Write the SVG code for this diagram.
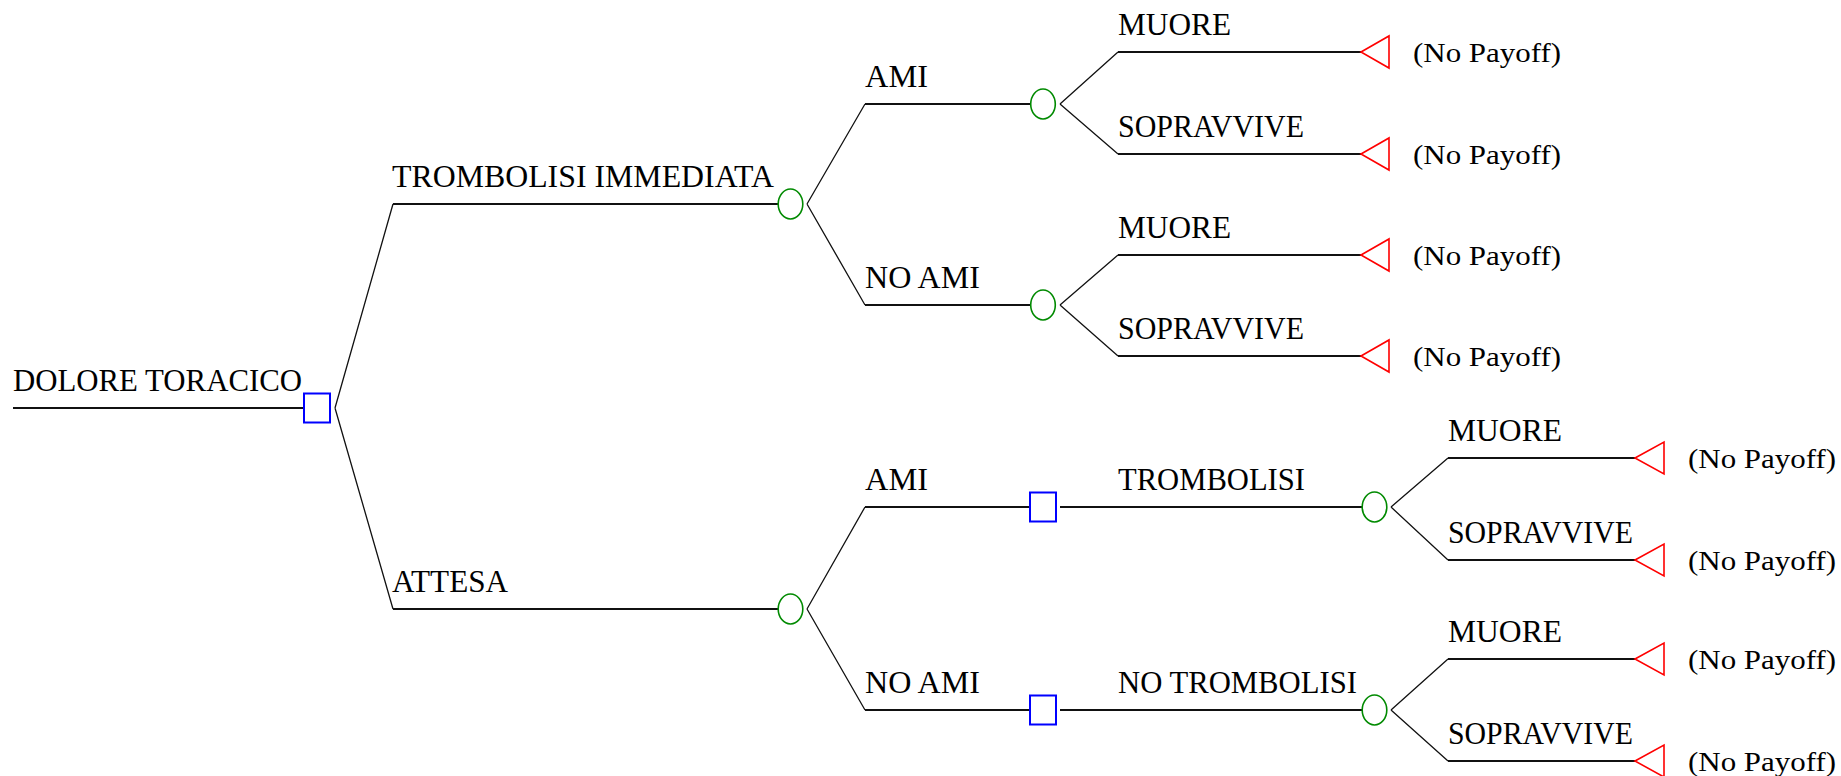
<svg xmlns="http://www.w3.org/2000/svg" width="1841" height="776" viewBox="0 0 1841 776">
<style>
.h{stroke:#111;stroke-width:2;fill:none}
.d{stroke:#111;stroke-width:1.3;fill:none}
.dec{fill:#fff;stroke:#0000ff;stroke-width:2}
.ch{fill:#fff;stroke:#008a00;stroke-width:1.6}
.term{fill:#fff;stroke:#ff0000;stroke-width:1.6}
.lbl{font-family:"Liberation Serif","Times New Roman",serif;font-size:32px;fill:#000}
.pay{font-family:"Liberation Serif","Times New Roman",serif;font-size:28px;fill:#000}
</style>
<rect width="1841" height="776" fill="#fff"/>
<g id="connectors">
<path class="h" d="M13,408H304M393,204H778M393,609H778M865,104H1031M865,305H1031M865,507H1030M865,710H1030M1060,507H1362M1060,710H1362M1118,52H1361M1118,154H1361M1118,255H1361M1118,356H1361M1448,458H1635M1448,560H1635M1448,659H1635M1448,761H1635"/>
<path class="d" d="M335,408L393,204M335,408L393,609M807,204L865,104M807,204L865,305M807,609L865,507M807,609L865,710M1060,104L1118,52M1060,104L1118,154M1060,305L1118,255M1060,305L1118,356M1391,507L1448,458M1391,507L1448,560M1391,710L1448,659M1391,710L1448,761"/>
</g>
<g id="root">
<text class="lbl" x="13" y="391" textLength="289" lengthAdjust="spacingAndGlyphs">DOLORE TORACICO</text>
<rect class="dec" x="304" y="393.5" width="26" height="29"/>
</g>
<g id="trombolisi-immediata">
<text class="lbl" x="392" y="187" textLength="382" lengthAdjust="spacingAndGlyphs">TROMBOLISI IMMEDIATA</text>
<ellipse class="ch" cx="790.5" cy="204" rx="12.3" ry="15"/>
</g>
<g id="attesa">
<text class="lbl" x="392" y="592" textLength="116" lengthAdjust="spacingAndGlyphs">ATTESA</text>
<ellipse class="ch" cx="790.5" cy="609" rx="12.3" ry="15"/>
</g>
<g id="ti-ami">
<text class="lbl" x="865" y="87" textLength="63" lengthAdjust="spacingAndGlyphs">AMI</text>
<ellipse class="ch" cx="1043" cy="104" rx="12.3" ry="15"/>
</g>
<g id="ti-noami">
<text class="lbl" x="865" y="288" textLength="115" lengthAdjust="spacingAndGlyphs">NO AMI</text>
<ellipse class="ch" cx="1043" cy="305" rx="12.3" ry="15"/>
</g>
<g id="at-ami">
<text class="lbl" x="865" y="490" textLength="63" lengthAdjust="spacingAndGlyphs">AMI</text>
<rect class="dec" x="1030" y="492.5" width="26" height="29"/>
</g>
<g id="at-noami">
<text class="lbl" x="865" y="693" textLength="115" lengthAdjust="spacingAndGlyphs">NO AMI</text>
<rect class="dec" x="1030" y="695.5" width="26" height="29"/>
</g>
<g id="at-ami-tromb">
<text class="lbl" x="1118" y="490" textLength="187" lengthAdjust="spacingAndGlyphs">TROMBOLISI</text>
<ellipse class="ch" cx="1374.5" cy="507" rx="12.3" ry="15"/>
</g>
<g id="at-noami-notromb">
<text class="lbl" x="1118" y="693" textLength="239" lengthAdjust="spacingAndGlyphs">NO TROMBOLISI</text>
<ellipse class="ch" cx="1374.5" cy="710" rx="12.3" ry="15"/>
</g>
<g id="leaf1">
<text class="lbl" x="1118" y="35" textLength="113" lengthAdjust="spacingAndGlyphs">MUORE</text>
<polygon class="term" points="1361,52 1389,36 1389,68"/>
<text class="pay" x="1413" y="62" textLength="148" lengthAdjust="spacingAndGlyphs">(No Payoff)</text>
</g>
<g id="leaf2">
<text class="lbl" x="1118" y="137" textLength="186" lengthAdjust="spacingAndGlyphs">SOPRAVVIVE</text>
<polygon class="term" points="1361,154 1389,138 1389,170"/>
<text class="pay" x="1413" y="164" textLength="148" lengthAdjust="spacingAndGlyphs">(No Payoff)</text>
</g>
<g id="leaf3">
<text class="lbl" x="1118" y="238" textLength="113" lengthAdjust="spacingAndGlyphs">MUORE</text>
<polygon class="term" points="1361,255 1389,239 1389,271"/>
<text class="pay" x="1413" y="265" textLength="148" lengthAdjust="spacingAndGlyphs">(No Payoff)</text>
</g>
<g id="leaf4">
<text class="lbl" x="1118" y="339" textLength="186" lengthAdjust="spacingAndGlyphs">SOPRAVVIVE</text>
<polygon class="term" points="1361,356 1389,340 1389,372"/>
<text class="pay" x="1413" y="366" textLength="148" lengthAdjust="spacingAndGlyphs">(No Payoff)</text>
</g>
<g id="leaf5">
<text class="lbl" x="1448" y="441" textLength="114" lengthAdjust="spacingAndGlyphs">MUORE</text>
<polygon class="term" points="1635,458 1664,442 1664,474"/>
<text class="pay" x="1688" y="468" textLength="148" lengthAdjust="spacingAndGlyphs">(No Payoff)</text>
</g>
<g id="leaf6">
<text class="lbl" x="1448" y="543" textLength="185" lengthAdjust="spacingAndGlyphs">SOPRAVVIVE</text>
<polygon class="term" points="1635,560 1664,544 1664,576"/>
<text class="pay" x="1688" y="570" textLength="148" lengthAdjust="spacingAndGlyphs">(No Payoff)</text>
</g>
<g id="leaf7">
<text class="lbl" x="1448" y="642" textLength="114" lengthAdjust="spacingAndGlyphs">MUORE</text>
<polygon class="term" points="1635,659 1664,643 1664,675"/>
<text class="pay" x="1688" y="669" textLength="148" lengthAdjust="spacingAndGlyphs">(No Payoff)</text>
</g>
<g id="leaf8">
<text class="lbl" x="1448" y="744" textLength="185" lengthAdjust="spacingAndGlyphs">SOPRAVVIVE</text>
<polygon class="term" points="1635,761 1664,745 1664,777"/>
<text class="pay" x="1688" y="771" textLength="148" lengthAdjust="spacingAndGlyphs">(No Payoff)</text>
</g>
</svg>
